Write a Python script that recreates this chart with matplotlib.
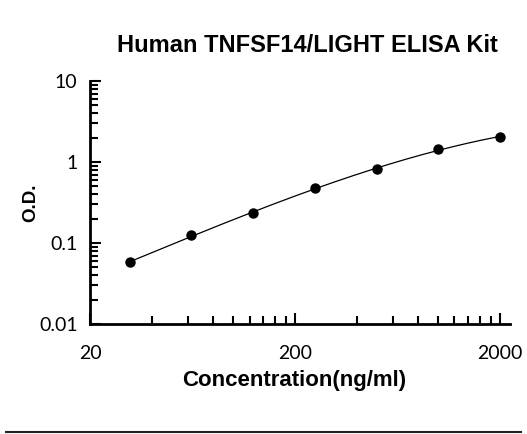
import matplotlib
matplotlib.use("Agg")
import matplotlib.pyplot as plt
import numpy as np

# standard curve readings
conc = [31.25, 62.5, 125, 250, 500, 1000, 2000]
od = [0.058, 0.124, 0.237, 0.471, 0.811, 1.45, 2.04]

x_ticks = [20, 200, 2000]
x_labels = ["20", "200", "2000"]
y_ticks = [0.01, 0.1, 1, 10]
y_labels = ["0.01", "0.1", "1", "10"]

title = "Human TNFSF14/LIGHT ELISA Kit"

fig = plt.figure(figsize=(5.27, 4.34), dpi=100)
ax = fig.add_axes([0.1708, 0.2535, 0.797, 0.5599])

# smooth fitted curve in log-log space
lx = np.log10(conc)
ly = np.log10(od)
coef = np.polyfit(lx, ly, 3)
xs = np.linspace(lx[0], lx[-1], 200)
ax.plot(10 ** xs, 10 ** np.polyval(coef, xs), color="black", lw=0.9)
ax.plot(conc, od, "o", color="black", ms=6.5)

ax.set_xscale("log")
ax.set_yscale("log")
ax.set_xlim(20, 2240)
ax.set_ylim(0.01, 10)

ax.set_xticks(x_ticks)
ax.set_xticklabels(x_labels)
ax.set_xticks([20 * k for k in range(2, 10)] + [200 * k for k in range(2, 10)] + [2000], minor=True)
ax.set_yticks(y_ticks)
ax.set_yticklabels(y_labels)
ax.set_yticks([d * k for d in (0.01, 0.1, 1) for k in range(2, 10)], minor=True)
ax.xaxis.set_minor_formatter(plt.NullFormatter())
ax.yaxis.set_minor_formatter(plt.NullFormatter())

for s in ("top", "right"):
    ax.spines[s].set_visible(False)
for s in ("left", "bottom"):
    ax.spines[s].set_linewidth(2)

ax.tick_params(which="major", direction="in", length=8, width=1.5,
               labelsize=14, pad=9)
ax.tick_params(which="minor", direction="in", length=6, width=1.5)
ax.tick_params(axis="x", which="major", pad=15)
for lab in ax.get_xticklabels() + ax.get_yticklabels():
    lab.set_family("Lato")

ax.set_xlabel("Concentration(ng/ml)", family="Liberation Sans", fontweight="bold",
              fontsize=16)
ax.xaxis.set_label_coords(0.486, -0.19)
ax.set_ylabel("O.D.", family="Liberation Sans", fontweight="bold", fontsize=13.5)
ax.yaxis.set_label_coords(-0.122, 0.498)
fig.text(0.583, 0.895, title, family="Liberation Sans", fontweight="bold",
         fontsize=17, ha="center", va="center")

# rule under the chart
fig.add_artist(plt.Line2D([0.012, 0.988], [0.005, 0.005], color="#222222", lw=1.5))

fig.savefig("out.png", dpi=100)
